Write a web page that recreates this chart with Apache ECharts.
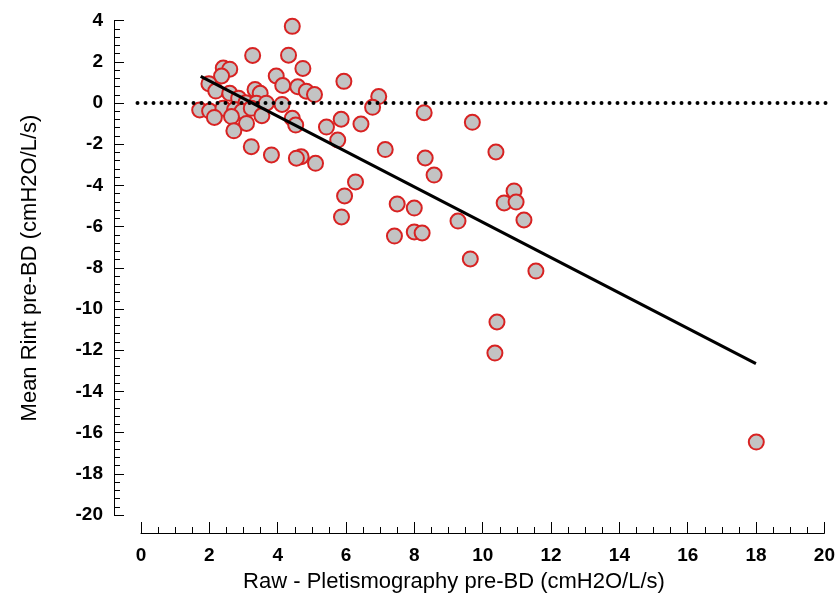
<!DOCTYPE html>
<html>
<head>
<meta charset="utf-8">
<script src="https://cdn.jsdelivr.net/npm/echarts@6/dist/echarts.min.js"></script>
<style>html,body{margin:0;padding:0;background:#fff}#c{width:838px;height:598px}</style>
</head>
<body>
<div id="c"></div>
<script>
const xTickLabels = ['0','2','4','6','8','10','12','14','16','18','20'];
const yTickLabels = ['-20','-18','-16','-14','-12','-10','-8','-6','-4','-2','0','2','4'];
const rawX = [4.43,3.27,4.32,4.74,2.41,2.60,2.36,3.96,1.99,4.15,5.94,2.19,2.60,3.34,3.49,4.59,4.84,5.08,2.86,3.07,3.38,3.67,4.13,1.72,2.01,2.40,2.15,2.74,2.96,3.23,3.54,2.65,3.09,2.72,3.23,3.82,4.43,4.53,4.69,4.55,5.11,5.43,5.86,6.44,5.76,6.96,6.78,7.15,10.39,8.32,8.58,6.28,5.96,10.92,10.63,10.98,7.50,8.00,5.87,11.21,9.28,7.42,8.00,8.23,9.64,11.56,10.42,10.36,18.01,9.70,8.29];
const rintY = [3.72,2.31,2.32,1.68,1.70,1.64,1.31,1.31,0.94,0.85,1.05,0.58,0.47,0.65,0.47,0.79,0.57,0.41,0.23,0.01,-0.01,-0.01,-0.07,-0.34,-0.39,-0.26,-0.70,-0.32,-0.40,-0.26,-0.62,-0.66,-0.99,-1.35,-2.12,-2.52,-0.74,-1.07,-2.61,-2.68,-2.93,-1.17,-0.79,-1.02,-1.80,0.31,-0.21,-2.26,-2.38,-2.67,-3.50,-3.83,-4.51,-4.27,-4.85,-4.81,-4.90,-5.10,-5.53,-5.68,-5.73,-6.46,-6.26,-6.31,-7.57,-8.16,-10.63,-12.14,-16.46,-0.94,-0.47];
const fitX = [1.75, 18.0];
const fitY = [1.29, -12.65];
const refX = [-0.1, 20.05];
const refY = [0, 0];

const pts = rawX.map((x,i)=>[x, rintY[i]]);
const fitPts = fitX.map((x,i)=>[x, fitY[i]]);
const refPts = refX.map((x,i)=>[x, refY[i]]);

const FONT = '"Liberation Sans", Arial, sans-serif';
const chart = echarts.init(document.getElementById('c'), null, {renderer:'canvas'});
chart.setOption({
  animation: false,
  backgroundColor: '#fff',
  grid: [
    {left:114, right:12, top:20.6, bottom:83},
    {left:141, right:12, top:20.6, bottom:65}
  ],
  xAxis: [
    {type:'value', gridIndex:0, min:-0.788, max:20.05, show:false},
    {type:'value', gridIndex:1, min:0, max:20, interval:2,
     axisLine:{show:true, onZero:false, lineStyle:{color:'#000', width:1}},
     axisTick:{show:true, inside:true, length:11, lineStyle:{color:'#000'}},
     minorTick:{show:true, splitNumber:4, length:6, lineStyle:{color:'#000'}},
     splitLine:{show:false},
     axisLabel:{color:'#000', fontFamily:FONT, fontWeight:'bold', fontSize:19, margin:13,
       formatter:(v)=>xTickLabels[Math.round(v/2)]}}
  ],
  yAxis: [
    {type:'value', gridIndex:0, min:-20, max:4, interval:2,
     axisLine:{show:true, onZero:false, lineStyle:{color:'#000', width:1}},
     axisTick:{show:true, inside:true, length:10, lineStyle:{color:'#000'}},
     minorTick:{show:true, splitNumber:5, length:6, lineStyle:{color:'#000'}},
     splitLine:{show:false},
     axisLabel:{color:'#000', fontFamily:FONT, fontWeight:'bold', fontSize:19, margin:11,
       formatter:(v)=>yTickLabels[Math.round((v+20)/2)]}},
    {type:'value', gridIndex:1, min:-20, max:4, show:false}
  ],
  graphic: [
    {type:'text', x:454, y:582, style:{text:'Raw - Pletismography pre-BD (cmH2O/L/s)', font:'22px '+FONT, fill:'#000', textAlign:'center', textVerticalAlign:'middle'}},
    {type:'text', x:30, y:268, rotation:Math.PI/2, style:{text:'Mean Rint pre-BD (cmH2O/L/s)', font:'22px '+FONT, fill:'#000', textAlign:'center', textVerticalAlign:'middle'}}
  ],
  series: [
    {type:'scatter', xAxisIndex:0, yAxisIndex:0, data:pts, symbol:'circle', symbolSize:15, z:2,
     itemStyle:{color:'#c3c3c3', borderColor:'#d82222', borderWidth:2, opacity:1}},
    {type:'line', xAxisIndex:0, yAxisIndex:0, data:fitPts, showSymbol:false, symbol:'none', z:3,
     lineStyle:{color:'#000', width:3}},
    {type:'line', xAxisIndex:0, yAxisIndex:0, data:refPts, showSymbol:false, symbol:'none', z:4,
     lineStyle:{color:'#000', width:4, type:[0,8], cap:'round'}}
  ]
});
</script>
</body>
</html>
